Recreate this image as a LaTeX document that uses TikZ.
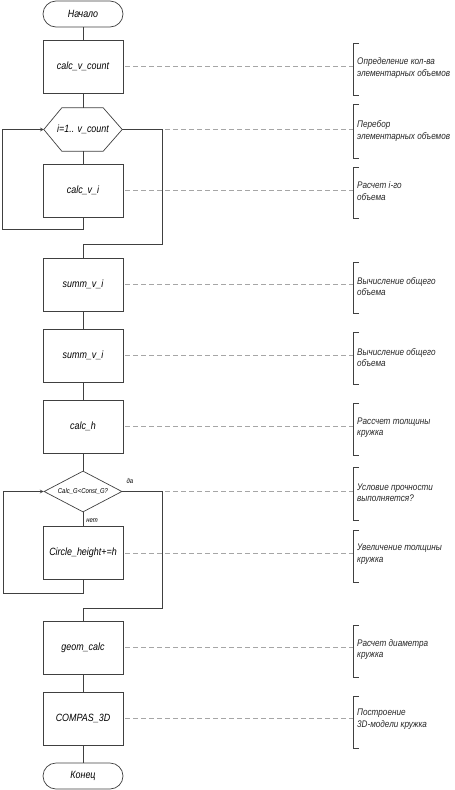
\documentclass[tikz,border=0pt]{standalone}
\usepackage{fontspec}
\setmainfont{Liberation Sans}[FakeStretch=0.85]
\usetikzlibrary{shapes.geometric}

\tikzset{
	flow/.style = {draw = black!75, line width = 0.7pt},
	blk/.style = {flow, minimum width = 80pt, minimum height = 53pt, font = \fontsize{10.5}{12}\selectfont\itshape},
	term/.style = {blk, rounded corners = 13pt, minimum height = 26pt},
	cond/.style = {flow, diamond, aspect = 1.9, inner sep = 0pt, minimum width = 78pt, minimum height = 41pt, font = \fontsize{7}{8}\selectfont\itshape},
	note/.style = {anchor = west, align = left, inner sep = 0pt, text = black!85, font = \fontsize{9.6}{11.5}\selectfont\itshape},
	tiny/.style = {inner sep = 0pt, font = \fontsize{7}{8}\selectfont\itshape},
	lead/.style = {draw = black!35, line width = 0.5pt, dash pattern = on 5pt off 3pt},
	brk/.style = {draw = black!75, line width = 0.6pt},
}

\begin{document}
\begin{tikzpicture}[x = 1pt, y = -1pt, >=stealth]
	
	\useasboundingbox (0,0) rectangle (455,790);
	
	% blocks
	\node[term] (start) at (83, 14) {Начало};
	\node[blk] (vcount) at (83, 66.5) {calc\_v\_count};
	\node[minimum width = 78pt, minimum height = 43pt, inner sep = 0pt, font = \fontsize{10.5}{12}\selectfont\itshape] (loop) at (83, 129.5) {i=1.. v\_count};
	\draw[flow] (loop.west) -- ([xshift = 18pt]loop.north west) -- ([xshift = -19pt]loop.north east) -- (loop.east) -- ([xshift = -19pt]loop.south east) -- ([xshift = 18pt]loop.south west) -- cycle;
	\node[blk] (vi) at (83, 190.5) {calc\_v\_i};
	\node[blk] (summa) at (83, 284.5) {summ\_v\_i};
	\node[blk] (summb) at (83, 355.5) {summ\_v\_i};
	\node[blk] (calch) at (83, 426.5) {calc\_h};
	\node[cond] (check) at (83, 491.5) {Calc\_G<Const\_G?};
	\node[blk] (circ) at (83, 553) {Circle\_height+=h};
	\node[blk] (geom) at (83, 647.5) {geom\_calc};
	\node[blk] (compas) at (83, 718.5) {COMPAS\_3D};
	\node[term] (stop) at (83, 776) {Конец};
	
	\node[tiny] (yes) at (130, 481) {да};
	\node[tiny] (no) at (92, 521) {нет};
	
	% connectors
	\draw[flow] (start) -- (vcount);
	\draw[flow] (vcount) -- (loop);
	\draw[flow] (loop) -- (vi);
	\coordinate (lpa) at (2, 229);
	\draw[flow, ->] (vi.south) |- (lpa) |- (loop.west);
	\coordinate (exa) at (162, 244);
	\draw[flow] (loop.east) -| (exa) -| (summa.north);
	\draw[flow] (summa) -- (summb);
	\draw[flow] (summb) -- (calch);
	\draw[flow] (calch) -- (check);
	\draw[flow] (check) -- (circ);
	\coordinate (lpb) at (3, 593);
	\draw[flow, ->] (circ.south) |- (lpb) |- (check.west);
	\coordinate (exb) at (162, 608);
	\draw[flow] (check.east) -| (exb) -| (geom.north);
	\draw[flow] (geom) -- (compas);
	\draw[flow] (compas) -- (stop);
	
	% comments
	\draw[lead] ([xshift = 2pt]vcount.east) -- (353, 66.5);
	\draw[brk] (359, 43) -- (353, 43) -- (353, 95) -- (359, 95);
	\node[note] (ca) at (357, 68) {Определение кол-ва\\элементарных объемов};
	
	\draw[lead] (165, 129.5) -- (353, 129.5);
	\draw[brk] (359, 104) -- (353, 104) -- (353, 158) -- (359, 158);
	\node[note] (cb) at (357, 131) {Перебор\\элементарных объемов};
	
	\draw[lead] ([xshift = 2pt]vi.east) -- (353, 190.5);
	\draw[brk] (359, 167) -- (353, 167) -- (353, 218) -- (359, 218);
	\node[note] (cc) at (357, 191) {Расчет i-го\\объема};
	
	\draw[lead] ([xshift = 2pt]summa.east) -- (353, 284.5);
	\draw[brk] (359, 262) -- (353, 262) -- (353, 313) -- (359, 313);
	\node[note] (cd) at (357, 286.5) {Вычисление общего\\объема};
	
	\draw[lead] ([xshift = 2pt]summb.east) -- (353, 355.5);
	\draw[brk] (359, 332) -- (353, 332) -- (353, 384) -- (359, 384);
	\node[note] (ce) at (357, 357.5) {Вычисление общего\\объема};
	
	\draw[lead] ([xshift = 2pt]calch.east) -- (353, 426.5);
	\draw[brk] (359, 403) -- (353, 403) -- (353, 455) -- (359, 455);
	\node[note] (cf) at (357, 427.5) {Рассчет толщины\\кружка};
	
	\draw[lead] (165, 491.5) -- (353, 491.5);
	\draw[brk] (359, 467) -- (353, 467) -- (353, 520) -- (359, 520);
	\node[note] (cg) at (357, 492.5) {Условие прочности\\выполняется?};
	
	\draw[lead] ([xshift = 2pt]circ.east) -- (353, 553);
	\draw[brk] (359, 530) -- (353, 530) -- (353, 582) -- (359, 582);
	\node[note] (ch) at (357, 554) {Увеличение толщины\\кружка};
	
	\draw[lead] ([xshift = 2pt]geom.east) -- (353, 647.5);
	\draw[brk] (359, 625) -- (353, 625) -- (353, 677) -- (359, 677);
	\node[note] (ci) at (357, 649.5) {Расчет диаметра\\кружка};
	
	\draw[lead] ([xshift = 2pt]compas.east) -- (353, 718.5);
	\draw[brk] (359, 696) -- (353, 696) -- (353, 748) -- (359, 748);
	\node[note] (cj) at (357, 719) {Построение\\3D-модели кружка};
	
\end{tikzpicture}
\end{document}
